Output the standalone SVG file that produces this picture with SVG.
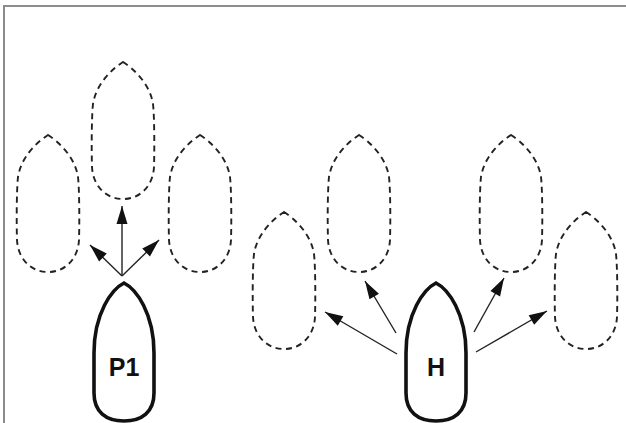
<svg xmlns="http://www.w3.org/2000/svg" width="626" height="423" viewBox="0 0 626 423">
<style>
.ghost{fill:none;stroke:#222;stroke-width:1.9;stroke-dasharray:6 4.5;}
.boat{fill:none;stroke:#111;stroke-width:3.6;}
.arr{stroke:#222;stroke-width:1.4;fill:none;marker-end:url(#ah);}
.lbl{font-family:"Liberation Sans",Arial,sans-serif;font-weight:bold;font-size:25px;fill:#111;text-anchor:middle;}
.frame{stroke:#8c8c8c;stroke-width:2;fill:none;}
</style>
<defs>
<marker id="ah" markerUnits="userSpaceOnUse" markerWidth="20" markerHeight="12" refX="18" refY="6" orient="auto" overflow="visible">
<path d="M0,0.5 L18,6 L0,11.5 Z" fill="#111"/>
</marker>
<path id="g" d="M0,0 C11,7 27,22 30,42 C31.5,55 31.5,90 31,105 C30,124 17,137 0,137 C-17,137 -30,124 -31,105 C-31.5,90 -31.5,55 -30,42 C-27,22 -11,7 0,0 Z"/>
<path id="s" d="M0,0 C12,6 30,30 30,70 L30,110 C30,129 18,138 0,138 C-18,138 -30,129 -30,110 L-30,70 C-30,30 -12,6 0,0 Z"/>
</defs>
<path class="frame" d="M4,423 L4,6 L626,6"/>
<g id="p1-ghost-left"><use href="#g" class="ghost" transform="translate(48,135)"/></g>
<g id="p1-ghost-center"><use href="#g" class="ghost" transform="translate(123,62)"/></g>
<g id="p1-ghost-right"><use href="#g" class="ghost" transform="translate(200,135)"/></g>
<g id="h-ghost-farleft"><use href="#g" class="ghost" transform="translate(284,212)"/></g>
<g id="h-ghost-left"><use href="#g" class="ghost" transform="translate(359,135)"/></g>
<g id="h-ghost-right"><use href="#g" class="ghost" transform="translate(511,135)"/></g>
<g id="h-ghost-farright"><use href="#g" class="ghost" transform="translate(586,212)"/></g>
<g id="p1"><use href="#s" class="boat" transform="translate(124,283)"/><text class="lbl" x="124" y="376">P1</text></g>
<g id="h"><use href="#s" class="boat" transform="translate(436,283)"/><text class="lbl" x="436" y="376">H</text></g>
<g id="connectors">
<line class="arr" x1="122" y1="276" x2="122" y2="206"/>
<line class="arr" x1="122" y1="276" x2="90" y2="245"/>
<line class="arr" x1="122" y1="276" x2="159" y2="240"/>
<line class="arr" x1="397" y1="354" x2="325" y2="312"/>
<line class="arr" x1="396" y1="333" x2="365" y2="281"/>
<line class="arr" x1="474" y1="332" x2="504" y2="278"/>
<line class="arr" x1="476" y1="352" x2="547" y2="311"/>
</g>
</svg>
